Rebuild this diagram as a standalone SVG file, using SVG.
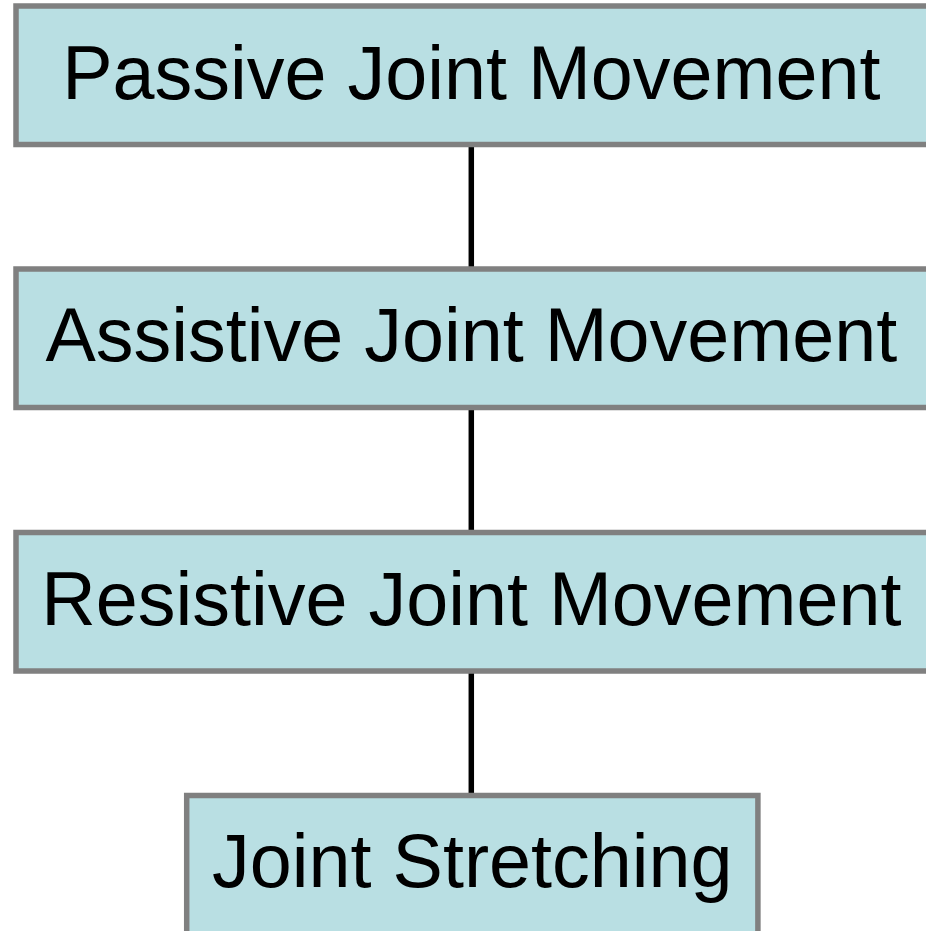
<svg xmlns="http://www.w3.org/2000/svg" width="926" height="931" viewBox="0 0 926 931">
  <style>
    .box { fill: #b9dfe3; stroke: #808080; stroke-width: 5.5; }
    .label { font-family: "Liberation Sans", Arial, sans-serif; font-size: 75.5px; fill: #000; text-anchor: middle; }
    .link { stroke: #000; stroke-width: 5.5; fill: none; }
  </style>
  <rect width="926" height="931" fill="#ffffff"/>
  <g id="connectors">
    <line class="link" x1="471.3" y1="144.5" x2="471.3" y2="269"/>
    <line class="link" x1="471.3" y1="407.5" x2="471.3" y2="532.5"/>
    <line class="link" x1="471.3" y1="671" x2="471.3" y2="795.5"/>
  </g>
  <g id="passive">
    <rect class="box" x="16" y="6" width="916" height="138.5"/>
    <text class="label" x="471.3" y="99">Passive Joint Movement</text>
  </g>
  <g id="assistive">
    <rect class="box" x="16" y="269" width="916" height="138.5"/>
    <text class="label" x="471.3" y="361">Assistive Joint Movement</text>
  </g>
  <g id="resistive">
    <rect class="box" x="16" y="532.5" width="916" height="138.5"/>
    <text class="label" x="471.3" y="624.5">Resistive Joint Movement</text>
  </g>
  <g id="stretching">
    <rect class="box" x="186.7" y="795.5" width="571.2" height="138.5"/>
    <text class="label" x="472.3" y="887">Joint Stretching</text>
  </g>
</svg>
